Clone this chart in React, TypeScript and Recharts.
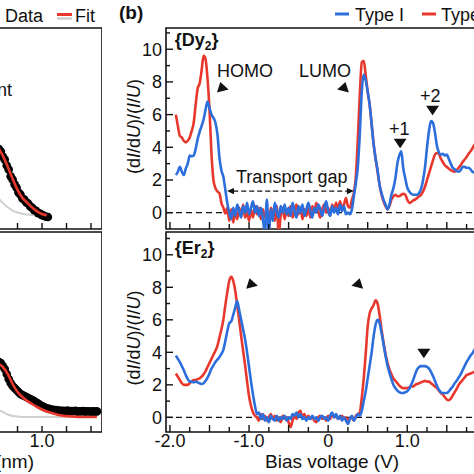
import React from 'react';
import { LineChart, Line, XAxis, YAxis, ReferenceLine, ReferenceArea, ReferenceDot } from 'recharts';

const FONT = '"Liberation Sans", Arial, Helvetica, sans-serif';
const BLUE = '#2c6fdc';
const RED = '#e8382d';
const GREY = '#cfcfcf';
const INK = '#111';

// ---- panel (b): bias voltage grid (V) and normalized conductance per series
const biasV = [
  -2.0, -1.975, -1.95, -1.925, -1.9, -1.875, -1.85, -1.825,
  -1.8, -1.775, -1.75, -1.725, -1.7, -1.675, -1.65, -1.625,
  -1.6, -1.575, -1.55, -1.525, -1.5, -1.475, -1.45, -1.425,
  -1.4, -1.375, -1.35, -1.325, -1.3, -1.275, -1.25, -1.225,
  -1.2, -1.175, -1.15, -1.125, -1.1, -1.075, -1.05, -1.025,
  -1.0, -0.975, -0.95, -0.925, -0.9, -0.875, -0.85, -0.825,
  -0.8, -0.775, -0.75, -0.725, -0.7, -0.675, -0.65, -0.625,
  -0.6, -0.575, -0.55, -0.525, -0.5, -0.475, -0.45, -0.425,
  -0.4, -0.375, -0.35, -0.325, -0.3, -0.275, -0.25, -0.225,
  -0.2, -0.175, -0.15, -0.125, -0.1, -0.075, -0.05, -0.025,
  0, 0.025, 0.05, 0.075, 0.1, 0.125, 0.15, 0.175,
  0.2, 0.225, 0.25, 0.275, 0.3, 0.325, 0.35, 0.375,
  0.4, 0.425, 0.45, 0.475, 0.5, 0.525, 0.55, 0.575,
  0.6, 0.625, 0.65, 0.675, 0.7, 0.725, 0.75, 0.775,
  0.8, 0.825, 0.85, 0.875, 0.9, 0.925, 0.95, 0.975,
  1.0, 1.025, 1.05, 1.075, 1.1, 1.125, 1.15, 1.175,
  1.2, 1.225, 1.25, 1.275, 1.3, 1.325, 1.35, 1.375,
  1.4, 1.425, 1.45, 1.475, 1.5, 1.525, 1.55, 1.575,
  1.6, 1.625, 1.65, 1.675, 1.7, 1.725, 1.75, 1.775,
  1.8, 1.825, 1.85, 1.875, 1.9, 1.925, 1.95, 1.975,
];

// {Dy2}, Type I (blue)
const dyType1 = [
  null, null, null, 2.3, 2.5, 2.8, 2.5, 2.3,
  2.7, 3.0, 3.5, 3.45, 3.5, 3.9, 4.5, 4.95,
  5.3, 5.7, 6.3, 6.8, 6.4, 6.0, 5.8, 5.5,
  4.8, 3.4, 2.6, 2.2, 1.4, 0.6, 0.0, -0.4,
  0.3, -0.2, 0.5, 0.1, -0.3, 0.4, 0.0, 0.6,
  -0.1, 0.3, 0.7, 0.0, 0.4, -0.2, 0.3, -0.4,
  -1.2, 0.8, -1.3, 0.2, -0.5, 0.6, 0.1, -0.3,
  0.4, 0.0, 0.5, -0.1, 0.3, -0.2, 0.6, 0.1,
  -0.3, 0.4, 0.0, 0.5, -0.2, 0.2, 0.6, 0.1,
  -0.3, 0.3, 0.0, 0.5, 0.2, -0.2, 0.3, 0.7,
  0.1, -0.2, 0.4, 0.0, 0.3, -0.1, 0.5, 0.1,
  0.4, -0.1, 0.0, -0.1, 0.2, 1.0, 1.8, 2.8,
  4.8, 7.4, 8.45, 8.1, 7.4, 6.6, 5.4, 4.2,
  3.3, 2.6, 1.7, 1.2, 0.8, 0.5, 0.2, 0.5,
  1.1, 1.5, 2.1, 3.0, 3.5, 3.75, 2.7, 2.1,
  1.55, 1.3, 1.15, 1.1, 1.1, 1.1, 1.2, 1.45,
  2.0, 2.8, 4.0, 5.0, 5.6, 5.5, 4.9, 4.1,
  3.7, 3.55, 3.6, 3.5, 3.55, 3.3, 3.0, 2.75,
  2.65, 2.55, 2.5, 2.6, 2.8, 2.8, 2.75, 2.75,
  2.65, 2.5, 2.45, 2.4, 2.4, 2.4, 2.4, 2.4,
];

// {Dy2}, Type II (red)
const dyType2 = [
  null, null, null, 6.0, 5.3, 4.7, 4.6, 4.4,
  4.3, 4.4, 4.6, 5.0, 5.5, 6.6, 7.6, 7.9,
  8.7, 9.6, 9.4, 8.2, 6.3, 3.6, 2.0, 1.5,
  1.3, 1.2, 0.6, 0.3, -0.05, 0.3, -0.5, 0.2,
  -0.6, 0.1, -0.4, 0.3, -0.2, 0.5, -0.3, 0.1,
  -0.5, 0.2, -0.3, 0.4, -0.1, 0.3, -0.4, 0.2,
  -0.3, 0.1, -0.6, 0.3, 0.0, -0.5, 0.4, -1.3,
  -0.2, 0.3, -0.4, 0.2, -0.2, 0.4, -0.3, 0.1,
  0.5, -0.1, 0.3, -0.4, 0.2, -0.2, 0.3, -0.3,
  0.4, 0.0, 0.6, 0.1, -0.3, 0.2, 0.5, 0.0,
  0.3, -0.2, 0.5, 0.1, 0.6, 0.2, 0.7, 0.3,
  0.5, 0.9, 0.4, 0.3, 0.8, 1.2, 2.2, 4.5,
  7.2, 9.2, 9.3, 8.4, 7.4, 6.6, 5.4, 4.2,
  3.3, 2.5, 1.7, 1.1, 0.7, 0.4, 0.2, 0.4,
  0.8, 1.0, 1.1, 1.0, 1.0, 1.1, 1.15, 1.1,
  0.8, 0.6, 0.65, 0.75, 0.8, 0.9, 1.0, 1.1,
  1.3, 1.6, 2.0, 2.4, 2.8, 3.2, 3.55, 3.65,
  3.6, 3.3, 3.1, 2.9, 2.8, 2.7, 2.6, 2.55,
  2.5, 2.6, 2.75, 2.9, 3.1, 3.25, 3.4, 3.6,
  3.75, 3.95, 4.15, 4.3, 4.45, 4.6, 4.7, 4.8,
];

// {Er2}, Type I (blue)
const erType1 = [
  null, null, null, 3.8, 3.6, 3.4, 3.15, 2.9,
  2.6, 2.35, 2.2, 2.2, 2.15, 2.2, 2.15, 2.1,
  2.05, 2.1, 2.25, 2.45, 2.7, 3.0, 3.2, 3.4,
  3.55, 3.7, 3.9, 4.15, 4.7, 5.3, 5.8, 5.9,
  6.3, 6.75, 7.15, 6.6, 6.0, 5.4, 4.8, 4.0,
  3.1, 2.2, 1.4, 0.7, 0.2, 0.3, -0.1, 0.2,
  -0.2, 0.0, -0.3, 0.1, -0.1, -0.2, 0.1, -0.2,
  0.0, -0.1, 0.1, -0.2, 0.0, -0.1, 0.2, 0.1,
  0.3, 0.0, 0.2, -0.1, 0.0, -0.2, 0.0, -0.1,
  0.1, -0.1, 0.0, -0.2, 0.0, 0.1, -0.1, 0.0,
  -0.2, 0.1, 0.3, 0.0, 0.2, -0.1, 0.1, -0.2,
  0.0, -0.2, -0.4, -0.1, 0.1, -0.2, 0.0, 0.2,
  0.1, 0.4, 1.0, 1.6, 2.4, 3.2, 4.0, 5.0,
  5.7, 6.0, 5.8, 5.2, 4.5, 3.8, 3.2, 2.75,
  2.35, 2.0, 1.8, 1.65, 1.55, 1.5, 1.5, 1.55,
  1.6, 1.75, 2.0, 2.3, 2.65, 2.95, 3.1, 3.15,
  3.15, 3.15, 3.1, 3.0, 2.8, 2.55, 2.25, 1.95,
  1.7, 1.55, 1.5, 1.5, 1.5, 1.6, 1.75, 1.9,
  2.1, 2.25, 2.45, 2.65, 2.9, 3.15, 3.4, 3.6,
  3.8, 3.95, 4.15, 4.3, 4.45, 4.6, 4.7, 4.8,
];

// {Er2}, Type II (red)
const erType2 = [
  null, null, null, 2.7, 2.5, 2.3, 2.1, 2.0,
  2.0, 2.0, 2.1, 2.2, 2.3, 2.3, 2.35, 2.4,
  2.5, 2.65, 2.85, 3.1, 3.35, 3.6, 3.85, 4.1,
  4.4, 4.9, 5.4, 6.0, 6.9, 7.7, 8.4, 8.65,
  8.4, 7.8, 6.9, 6.0, 5.0, 4.1, 3.2, 2.2,
  1.3, 0.7, 0.3, 0.1, 0.0, -0.2, 0.2, -0.1,
  0.1, -0.2, 0.0, 0.2, -0.1, 0.1, -0.2, 0.0,
  -0.3, 0.1, -0.1, 0.0, -0.3, -0.6, -0.2, 0.1,
  -0.1, 0.3, 0.4, 0.0, 0.2, -0.1, 0.1, -0.1,
  0.0, -0.2, -0.3, 0.0, 0.1, -0.1, 0.0, -0.2,
  0.1, -0.1, 0.2, 0.0, 0.1, -0.1, 0.0, 0.1,
  -0.1, 0.0, -0.2, -0.1, 0.0, -0.2, 0.1, 0.2,
  0.3, 1.2, 2.4, 3.9, 5.6, 6.4, 6.7, 6.9,
  7.2, 7.0, 6.3, 5.4, 4.6, 3.9, 3.35, 2.95,
  2.65, 2.4, 2.25, 2.1, 1.95, 1.85, 1.8, 1.8,
  1.8, 1.85, 1.9, 1.9, 2.0, 2.05, 2.1, 2.15,
  2.2, 2.25, 2.2, 2.2, 2.1, 2.0, 1.9, 1.8,
  1.65, 1.5, 1.4, 1.25, 1.1, 1.05, 1.15, 1.35,
  1.55, 1.75, 2.0, 2.15, 2.3, 2.45, 2.6, 2.65,
  2.7, 2.75, 2.8, 2.85, 2.9, 2.95, 3.0, 3.0,
];

const biasTicks = [-2, -1.75, -1.5, -1.25, -1, -0.75, -0.5, -0.25, 0, 0.25, 0.5, 0.75, 1, 1.25, 1.5, 1.75, 2];
const biasLabelAt = [-2, -1, 0, 1, 2];
const biasLabels = ['-2.0', '-1.0', '0', '1.0', '2.0'];
const condTicks = [0, 1, 2, 3, 4, 5, 6, 7, 8, 9, 10, 11];

// ---- panel (a): right-hand end of the decay curves (distance in nm, arb. units)
const topDist = [0.56, 0.58, 0.6, 0.62, 0.64, 0.66, 0.68, 0.7, 0.72, 0.74, 0.76, 0.78, 0.8, 0.82, 0.84, 0.86, 0.88, 0.9, 0.92, 0.94, 0.96, 0.98, 1.0, 1.02, 1.04, 1.06];
const topData = [0.398, 0.385, 0.36, 0.345, 0.316, 0.296, 0.262, 0.246, 0.222, 0.206, 0.182, 0.171, 0.152, 0.146, 0.132, 0.126, 0.112, 0.106, 0.093, 0.091, 0.079, 0.077, 0.069, 0.066, 0.061, 0.06];
const topFitDist = [0.56, 0.6, 0.65, 0.7, 0.75, 0.8, 0.85, 0.9, 0.95, 1.0, 1.05];
const topFit = [0.4, 0.365, 0.31, 0.25, 0.195, 0.155, 0.13, 0.107, 0.088, 0.075, 0.068];
const topBase = [0.15, 0.13, 0.108, 0.092, 0.082, 0.076, 0.072, 0.07, 0.069, 0.068, 0.068];

const botDist = [
  0.56, 0.58, 0.6, 0.62, 0.64, 0.66, 0.68, 0.7, 0.72, 0.74, 0.76, 0.78, 0.8, 0.82, 0.84, 0.86, 0.88,
  0.9, 0.92, 0.94, 0.96, 0.98, 1.0, 1.02, 1.04, 1.06, 1.08, 1.1, 1.12, 1.14, 1.16, 1.18, 1.2,
  1.22, 1.24, 1.26, 1.28, 1.3, 1.32, 1.34, 1.36, 1.38, 1.4, 1.42, 1.44, 1.46, 1.48, 1.5, 1.52, 1.54, 1.56,
];
const botData = [
  0.35, 0.345, 0.33, 0.315, 0.29, 0.265, 0.245, 0.23, 0.22, 0.21, 0.2, 0.19, 0.185, 0.18, 0.175, 0.17, 0.165,
  0.16, 0.155, 0.1475, 0.1425, 0.135, 0.13, 0.125, 0.12, 0.1175, 0.115, 0.1125, 0.11, 0.11, 0.1075, 0.1075, 0.105,
  0.106, 0.104, 0.107, 0.103, 0.105, 0.104, 0.106, 0.102, 0.104, 0.103, 0.105, 0.102, 0.104, 0.103, 0.101, 0.103, 0.102, 0.103,
];
const botFitDist = [0.56, 0.6, 0.65, 0.7, 0.75, 0.8, 0.85, 0.9, 0.95, 1.0, 1.05, 1.1, 1.15, 1.2, 1.3, 1.4, 1.5, 1.56];
const botFit = [0.34, 0.325, 0.29, 0.24, 0.2, 0.175, 0.155, 0.14, 0.125, 0.1125, 0.1025, 0.095, 0.0875, 0.0825, 0.0775, 0.075, 0.075, 0.075];
const botBaseDist = [0.56, 0.6, 0.65, 0.7, 0.75, 0.8, 0.9, 1.0, 1.2, 1.4, 1.56];
const botBase = [0.11, 0.1, 0.0875, 0.08, 0.0775, 0.075, 0.075, 0.075, 0.075, 0.075, 0.075];

const distTicks = [0, 0.25, 0.5, 0.75, 1.0, 1.25, 1.5];

// annotation placements (data coordinates)
const dyNotes = [
  { text: 'HOMO', v: -1.05, y: 8.3 },
  { text: 'LUMO', v: -0.04, y: 8.3 },
  { text: 'Transport gap', v: -0.46, y: 1.8 },
  { text: '+1', v: 0.9, y: 4.74 },
  { text: '+2', v: 1.29, y: 6.78 },
];
const dyMarks = [
  { kind: 'right', v: -1.33, y: 7.64 },
  { kind: 'left', v: 0.19, y: 7.64 },
  { kind: 'down', v: 0.91, y: 4.24 },
  { kind: 'down', v: 1.32, y: 6.27 },
];
const erMarks = [
  { kind: 'right', v: -0.96, y: 8.2 },
  { kind: 'left', v: 0.37, y: 8.2 },
  { kind: 'down', v: 1.21, y: 3.94 },
];

const specRows = biasV.map((v, i) => ({
  v,
  dy1: dyType1[i],
  dy2: dyType2[i],
  er1: erType1[i],
  er2: erType2[i],
}));
const rows = (xs: number[], ys: number[]) => xs.map((d, i) => ({ d, y: ys[i] }));

const TRI: Record<string, number[][]> = {
  right: [[-2.7, -5.8], [5.7, 1.8], [-6, 4.8]],
  left: [[2.3, -5.8], [-6, 1.8], [5.7, 4.8]],
  down: [[-6.5, -4.5], [6.5, -4.5], [0, 5]],
  tipL: [[0, 0], [7, -3.2], [7, 3.2]],
  tipR: [[0, 0], [-7, -3.2], [-7, 3.2]],
};
const triShape = (kind: string) => (p: any) => (
  <polygon points={TRI[kind].map(([dx, dy]) => `${p.cx + dx},${p.cy + dy}`).join(' ')} fill={INK} />
);
const textShape = (text: string, anchor = 'middle') => (p: any) => (
  <text x={p.cx} y={p.cy} textAnchor={anchor} fontSize={18} fontFamily={FONT} fill={INK}>
    {text}
  </text>
);
const tagShape = (el: string) => (p: any) => (
  <text x={p.cx} y={p.cy} fontSize={18} fontWeight="bold" fontFamily={FONT} fill={INK}>
    {'{' + el}
    <tspan fontSize={12} dy={4}>2</tspan>
    <tspan dy={-4}>{'}'}</tspan>
  </text>
);

function BiasTick(props: any) {
  const { x, y, payload, showLabel } = props;
  const v = payload.value;
  const major = Math.abs(v * 2 - Math.round(v * 2)) < 1e-6;
  const idx = biasLabelAt.indexOf(v);
  return (
    <g>
      <line x1={x} x2={x} y1={y} y2={y - (major ? 7 : 5)} stroke={INK} strokeWidth={1.4} />
      {showLabel && idx >= 0 && (
        <text x={x} y={y + 15} textAnchor="middle" fontSize={18} fontFamily={FONT} fill={INK}>
          {biasLabels[idx]}
        </text>
      )}
    </g>
  );
}

function CondTick(props: any) {
  const { x, y, payload } = props;
  const v = payload.value;
  const major = v % 2 === 0;
  return (
    <g>
      <line x1={x} x2={x + (major ? 7 : 4)} y1={y} y2={y} stroke={INK} strokeWidth={1.4} />
      {major && (
        <text x={x - 4} y={y} dy="0.35em" textAnchor="end" fontSize={18} fontFamily={FONT} fill={INK}>
          {v}
        </text>
      )}
    </g>
  );
}

function DistTick(props: any) {
  const { x, y, payload, showLabel } = props;
  const v = payload.value;
  return (
    <g>
      <line x1={x} x2={x} y1={y} y2={y - 6} stroke={INK} strokeWidth={1.4} />
      {showLabel && v === 1 && (
        <text x={x} y={y + 15} textAnchor="middle" fontSize={18} fontFamily={FONT} fill={INK}>
          1.0
        </text>
      )}
    </g>
  );
}

const yTitle = (p: any) => {
  const vb = p.viewBox || {};
  const cy = vb.y + vb.height / 2 + (vb.y > 200 ? 6 : -2);
  return (
    <text transform={`rotate(-90, 140, ${cy})`} x={140} y={cy} textAnchor="middle" fontSize={18} fontFamily={FONT} fill={INK}>
      (d<tspan fontStyle="italic">I</tspan>/d<tspan fontStyle="italic">U</tspan>)/(<tspan fontStyle="italic">I</tspan>/
      <tspan fontStyle="italic">U</tspan>)
    </text>
  );
};

interface SpecProps {
  height: number;
  top: number;
  bottom: number;
  yDomain: [number, number];
  k1: string;
  k2: string;
  tag: string;
  tagY: number;
  marks: { kind: string; v: number; y: number }[];
  notes?: { text: string; v: number; y: number }[];
  bottomPanel?: boolean;
}

function SpecPanel({ height, top, bottom, yDomain, k1, k2, tag, tagY, marks, notes = [], bottomPanel = false }: SpecProps) {
  return (
    <LineChart width={500} height={height} data={specRows} margin={{ top, right: 9.7, bottom, left: 165 }}>
      <XAxis
        type="number"
        dataKey="v"
        domain={[-2.05, 2.05]}
        ticks={biasTicks}
        interval={0}
        height={1}
        tickSize={0}
        tickMargin={0}
        tickLine={false}
        axisLine={false}
        allowDataOverflow
        tick={(p: any) => <BiasTick {...p} showLabel={bottomPanel} />}
        label={
          bottomPanel
            ? {
                value: 'Bias voltage (V)',
                content: (p: any) => (
                  <text
                    x={p.viewBox.x + p.viewBox.width / 2 + 4}
                    y={p.viewBox.y + 36}
                    textAnchor="middle"
                    fontSize={19}
                    fontFamily={FONT}
                    fill={INK}
                  >
                    Bias voltage (V)
                  </text>
                ),
              }
            : undefined
        }
      />
      <YAxis
        type="number"
        domain={yDomain}
        ticks={condTicks}
        interval={0}
        width={1}
        tickSize={0}
        tickMargin={0}
        tickLine={false}
        axisLine={false}
        allowDataOverflow
        tick={CondTick}
        label={{ value: '(dI/dU)/(I/U)', content: yTitle }}
      />
      <ReferenceLine y={0} stroke={INK} strokeWidth={1.4} strokeDasharray="6 4" />
      <Line type="monotone" dataKey={k2} stroke={RED} strokeWidth={2.6} dot={false} isAnimationActive={false} />
      <Line type="monotone" dataKey={k1} stroke={BLUE} strokeWidth={2.6} dot={false} isAnimationActive={false} />
      <ReferenceArea x1={-2.05} x2={2.05} y1={yDomain[0]} y2={yDomain[1]} fill="none" stroke={INK} strokeWidth={1.6} ifOverflow="visible" />
      <ReferenceDot x={-1.94} y={tagY} r={0} ifOverflow="visible" shape={tagShape(tag)} />
      {notes.map((n) => (
        <ReferenceDot key={n.text} x={n.v} y={n.y} r={0} ifOverflow="visible" shape={textShape(n.text)} />
      ))}
      {marks.map((m, i) => (
        <ReferenceDot key={i} x={m.v} y={m.y} r={0} ifOverflow="visible" shape={triShape(m.kind)} />
      ))}
      {!bottomPanel && (
        <ReferenceLine
          segment={[
            { x: -1.2, y: 1.32 },
            { x: 0.25, y: 1.32 },
          ]}
          stroke={INK}
          strokeWidth={1.4}
          strokeDasharray="5 3"
          ifOverflow="visible"
        />
      )}
      {!bottomPanel && <ReferenceDot x={-1.279} y={1.32} r={0} ifOverflow="visible" shape={triShape('tipL')} />}
      {!bottomPanel && <ReferenceDot x={0.326} y={1.32} r={0} ifOverflow="visible" shape={triShape('tipR')} />}
    </LineChart>
  );
}

interface DecayProps {
  height: number;
  top: number;
  bottom: number;
  data?: { d: number; y: number }[];
  fit?: { d: number; y: number }[];
  base?: { d: number; y: number }[];
  bottomPanel?: boolean;
  fitLayer?: boolean;
}

// the fit is drawn as a second, transparent chart on top so it sits above the data markers
function DecayPanel({ height, top, bottom, data, fit, base, bottomPanel = false, fitLayer = false }: DecayProps) {
  return (
    <LineChart width={158} height={height} margin={{ top, right: 0, bottom, left: 0 }}>
      <XAxis
        type="number"
        dataKey="d"
        domain={[0, 1.612]}
        ticks={distTicks}
        interval={0}
        height={1}
        tickSize={0}
        tickMargin={0}
        tickLine={false}
        axisLine={false}
        allowDataOverflow
        tick={fitLayer ? false : (p: any) => <DistTick {...p} showLabel={bottomPanel} />}
        label={
          bottomPanel && !fitLayer
            ? {
                value: 'Distance (nm)',
                content: (p: any) => (
                  <text x={90} y={p.viewBox.y + 36} textAnchor="end" fontSize={19} fontFamily={FONT} fill={INK}>
                    Distance (nm)
                  </text>
                ),
              }
            : undefined
        }
      />
      <YAxis hide type="number" domain={[0, 1]} allowDataOverflow />
      {base && <Line data={base} type="monotone" dataKey="y" stroke={GREY} strokeWidth={2} dot={false} isAnimationActive={false} />}
      {data && (
        <Line
          data={data}
          dataKey="y"
          stroke="none"
          dot={{ r: 4.3, fill: '#000', stroke: '#000', strokeWidth: 0 }}
          isAnimationActive={false}
        />
      )}
      {fit && <Line data={fit} type="monotone" dataKey="y" stroke={RED} strokeWidth={2.6} dot={false} isAnimationActive={false} />}
      {!fitLayer && (
        <ReferenceArea x1={0} x2={1.612} y1={0} y2={1} fill="none" stroke={INK} strokeWidth={1.6} ifOverflow="visible" />
      )}
      {!fitLayer && !bottomPanel && (
        <ReferenceDot x={0.694} y={0.662} r={0} ifOverflow="visible" shape={textShape('Contact point', 'end')} />
      )}
    </LineChart>
  );
}

export default function App() {
  const abs = (left: number): React.CSSProperties => ({ position: 'absolute', left, top: 0 });
  return (
    <div
      style={{
        position: 'fixed',
        left: 0,
        top: 0,
        width: 474,
        height: 474,
        overflow: 'hidden',
        background: '#fff',
        fontFamily: FONT,
      }}
    >
      <div style={abs(-56)}>
        <DecayPanel height={235} top={28} bottom={5} data={rows(topDist, topData)} base={rows(topFitDist, topBase)} />
      </div>
      <div style={abs(-56)}>
        <DecayPanel height={235} top={28} bottom={5} fit={rows(topFitDist, topFit)} fitLayer />
      </div>
      <div style={abs(-56)}>
        <DecayPanel
          height={474}
          top={232}
          bottom={41}
          data={rows(botDist, botData)}
          base={rows(botBaseDist, botBase)}
          bottomPanel
        />
      </div>
      <div style={abs(-56)}>
        <DecayPanel height={474} top={232} bottom={41} fit={rows(botFitDist, botFit)} bottomPanel fitLayer />
      </div>
      <div style={abs(0)}>
        <SpecPanel height={235} top={28} bottom={5} yDomain={[-1, 11.3]} k1="dy1" k2="dy2" tag="Dy" tagY={10.2} marks={dyMarks} notes={dyNotes} />
      </div>
      <div style={abs(0)}>
        <SpecPanel height={474} top={232} bottom={41} yDomain={[-0.9, 11.4]} k1="er1" k2="er2" tag="Er" tagY={10.05} marks={erMarks} bottomPanel />
      </div>
      <svg width={474} height={40} style={{ position: 'absolute', left: 0, top: 0, pointerEvents: 'none' }}>
        <text x={5} y={22} fontSize={18} fontFamily={FONT} fill={INK}>Data</text>
        <line x1={57} x2={72} y1={18.5} y2={18.5} stroke={GREY} strokeWidth={2.5} />
        <line x1={57} x2={72} y1={14.5} y2={14.5} stroke={RED} strokeWidth={3} />
        <text x={75} y={22} fontSize={18} fontFamily={FONT} fill={INK}>Fit</text>
        <text x={119} y={19} fontSize={19} fontWeight="bold" fontFamily={FONT} fill={INK}>(b)</text>
        <line x1={335} x2={349} y1={14} y2={14} stroke={BLUE} strokeWidth={3} />
        <text x={355} y={21} fontSize={18} fontFamily={FONT} fill={INK}>Type I</text>
        <line x1={422} x2={436} y1={14} y2={14} stroke={RED} strokeWidth={3} />
        <text x={441} y={21} fontSize={18} fontFamily={FONT} fill={INK}>Type II</text>
      </svg>
    </div>
  );
}
